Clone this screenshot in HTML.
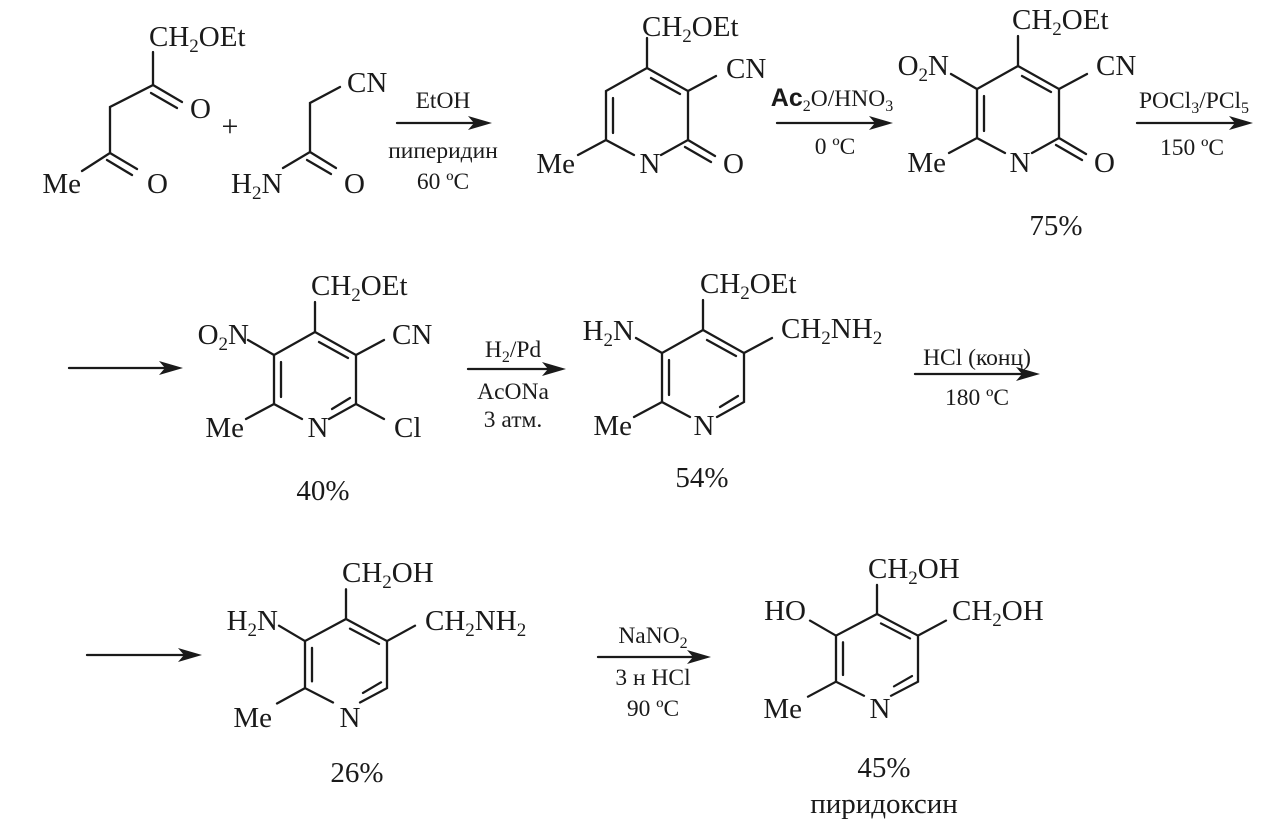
<!DOCTYPE html>
<html><head><meta charset="utf-8"><style>
html,body{margin:0;padding:0;background:#fff;}
svg{display:block;}
text{font-family:"Liberation Serif",serif;fill:#1a1a1a;}
.L{font-size:29px;}
.R{font-size:23.5px;}
</style></head><body>
<svg width="1280" height="827" viewBox="0 0 1280 827" xmlns="http://www.w3.org/2000/svg">
<defs>
<g id="ring">
<path d="M0,0 L41,23 L41,72 L14,87 M-13,87 L-41,72 L-41,23 L0,0" />
<path d="M4,10 L33,26 M-34,30 L-34,65" />
</g>
<g id="pyr">
<use href="#ring"/>
<path d="M35,66 L17,77"/>
</g>
</defs>
<g fill="none" stroke="#1a1a1a" stroke-width="2.3" stroke-linecap="round">
<path d="M153,52 L153,85 L110,107 L110,153 L82,171"/>
<path d="M153,85 L182,102 M151,93 L177,108"/>
<path d="M110,153 L137,169 M107,160 L132,175"/>
<path d="M340,87 L310,103 L310,152 L283,168"/>
<path d="M310,152 L336,168 M307,160 L331,174"/>
<g transform="translate(647,68)">
<use href="#ring"/>
<path d="M0,0 L0,-30 M41,23 L69,8 M-41,72 L-69,87 M41,72 L68,88 M38,79 L64,94"/>
</g>
<g transform="translate(1018,66)">
<use href="#ring"/>
<path d="M0,0 L0,-30 M41,23 L69,8 M-41,72 L-69,87 M41,72 L68,88 M38,79 L64,94 M-41,23 L-67,8"/>
</g>
<g transform="translate(315,332)">
<use href="#pyr"/>
<path d="M0,0 L0,-30 M41,23 L69,8 M-41,72 L-69,87 M41,72 L69,87 M-41,23 L-67,8"/>
</g>
<g transform="translate(703,330)">
<use href="#pyr"/>
<path d="M0,0 L0,-30 M41,23 L69,8 M-41,72 L-69,87 M-41,23 L-67,8"/>
</g>
<g transform="translate(346,619) scale(1,0.96)">
<use href="#pyr"/>
<path d="M0,0 L0,-31 M41,23 L69,7 M-41,72 L-69,88 M-41,23 L-67,7"/>
</g>
<g transform="translate(877,614) scale(1,0.94)">
<use href="#pyr"/>
<path d="M0,0 L0,-31 M41,23 L69,7 M-41,72 L-69,88 M-41,23 L-67,7"/>
</g>
<path d="M397,123 L478,123"/>
<path d="M777,123 L880,123"/>
<path d="M1137,123 L1240,123"/>
<path d="M69,368 L170,368"/>
<path d="M468,369 L553,369"/>
<path d="M915,374 L1027,374"/>
<path d="M87,655 L189,655"/>
<path d="M598,657 L698,657"/>
</g>
<g fill="#1a1a1a">
<polygon points="492,123 468,116 474,123 468,130"/>
<polygon points="893,123 869,116 875,123 869,130"/>
<polygon points="1253,123 1229,116 1235,123 1229,130"/>
<polygon points="183,368 159,361 165,368 159,375"/>
<polygon points="566,369 542,362 548,369 542,376"/>
<polygon points="1040,374 1016,367 1022,374 1016,381"/>
<polygon points="202,655 178,648 184,655 178,662"/>
<polygon points="711,657 687,650 693,657 687,664"/>
</g>
<g class="L">
<text x="149" y="46">CH<tspan font-size="19" dy="6">2</tspan><tspan dy="-6">OEt</tspan></text>
<text x="190" y="118">O</text>
<text x="81" y="193" text-anchor="end">Me</text>
<text x="147" y="193">O</text>
<text x="230" y="136" font-size="30" text-anchor="middle">+</text>
<text x="347" y="92">CN</text>
<text x="231" y="193">H<tspan font-size="19" dy="6">2</tspan><tspan dy="-6">N</tspan></text>
<text x="344" y="193">O</text>

<text x="642" y="36">CH<tspan font-size="19" dy="6">2</tspan><tspan dy="-6">OEt</tspan></text>
<text x="726" y="78">CN</text>
<text x="723" y="173">O</text>
<text x="575" y="173" text-anchor="end">Me</text>
<text x="650" y="173" text-anchor="middle">N</text>

<text x="1012" y="29">CH<tspan font-size="19" dy="6">2</tspan><tspan dy="-6">OEt</tspan></text>
<text x="949" y="75" text-anchor="end">O<tspan font-size="19" dy="6">2</tspan><tspan dy="-6">N</tspan></text>
<text x="1096" y="75">CN</text>
<text x="1094" y="172">O</text>
<text x="946" y="172" text-anchor="end">Me</text>
<text x="1020" y="172" text-anchor="middle">N</text>
<text x="1056" y="235" text-anchor="middle">75%</text>

<text x="311" y="295">CH<tspan font-size="19" dy="6">2</tspan><tspan dy="-6">OEt</tspan></text>
<text x="249" y="344" text-anchor="end">O<tspan font-size="19" dy="6">2</tspan><tspan dy="-6">N</tspan></text>
<text x="392" y="344">CN</text>
<text x="394" y="437">Cl</text>
<text x="244" y="437" text-anchor="end">Me</text>
<text x="318" y="437" text-anchor="middle">N</text>
<text x="323" y="500" text-anchor="middle">40%</text>

<text x="700" y="293">CH<tspan font-size="19" dy="6">2</tspan><tspan dy="-6">OEt</tspan></text>
<text x="634" y="340" text-anchor="end">H<tspan font-size="19" dy="6">2</tspan><tspan dy="-6">N</tspan></text>
<text x="781" y="338">CH<tspan font-size="19" dy="6">2</tspan><tspan dy="-6">NH</tspan><tspan font-size="19" dy="6">2</tspan></text>
<text x="632" y="435" text-anchor="end">Me</text>
<text x="704" y="435" text-anchor="middle">N</text>
<text x="702" y="487" text-anchor="middle">54%</text>

<text x="342" y="582">CH<tspan font-size="19" dy="6">2</tspan><tspan dy="-6">OH</tspan></text>
<text x="278" y="630" text-anchor="end">H<tspan font-size="19" dy="6">2</tspan><tspan dy="-6">N</tspan></text>
<text x="425" y="630">CH<tspan font-size="19" dy="6">2</tspan><tspan dy="-6">NH</tspan><tspan font-size="19" dy="6">2</tspan></text>
<text x="272" y="727" text-anchor="end">Me</text>
<text x="350" y="727" text-anchor="middle">N</text>
<text x="357" y="782" text-anchor="middle">26%</text>

<text x="868" y="578">CH<tspan font-size="19" dy="6">2</tspan><tspan dy="-6">OH</tspan></text>
<text x="806" y="620" text-anchor="end">HO</text>
<text x="952" y="620">CH<tspan font-size="19" dy="6">2</tspan><tspan dy="-6">OH</tspan></text>
<text x="802" y="718" text-anchor="end">Me</text>
<text x="880" y="718" text-anchor="middle">N</text>
<text x="884" y="777" text-anchor="middle">45%</text>
<text x="884" y="813" text-anchor="middle">пиридоксин</text>
</g>
<g class="R" text-anchor="middle">
<text x="443" y="108">EtOH</text>
<text x="443" y="158">пиперидин</text>
<text x="443" y="189">60 ºC</text>

<text x="832" y="106"><tspan font-family="Liberation Sans" font-weight="bold" font-size="25">Ac</tspan><tspan font-size="16" dy="5">2</tspan><tspan dy="-5">O/HNO</tspan><tspan font-size="16" dy="5">3</tspan></text>
<text x="835" y="154">0 ºC</text>

<text x="1194" y="108">POCl<tspan font-size="16" dy="5">3</tspan><tspan dy="-5">/PCl</tspan><tspan font-size="16" dy="5">5</tspan></text>
<text x="1192" y="155">150 ºC</text>

<text x="513" y="357">H<tspan font-size="16" dy="5">2</tspan><tspan dy="-5">/Pd</tspan></text>
<text x="513" y="399">AcONa</text>
<text x="513" y="427">3 атм.</text>

<text x="977" y="365">HCl (конц)</text>
<text x="977" y="405">180 ºC</text>

<text x="653" y="643">NaNO<tspan font-size="16" dy="5">2</tspan></text>
<text x="653" y="685">3 н HCl</text>
<text x="653" y="716">90 ºC</text>
</g>
</svg>
</body></html>
